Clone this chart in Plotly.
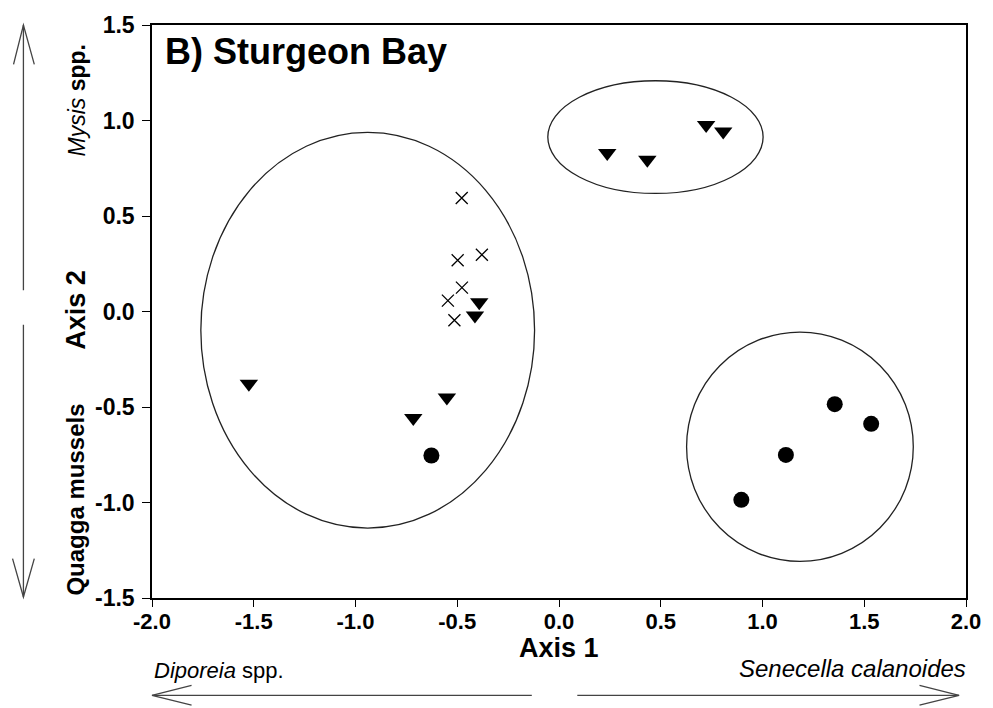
import plotly.graph_objects as go

# ---- data ----
tri_x = [0.237, 0.434, 0.723, 0.807, -1.524, -0.551, -0.716, -0.392, -0.413]
tri_y = [0.830, 0.795, 0.976, 0.942, -0.378, -0.450, -0.557, 0.048, -0.021]

cross_x = [-0.478, -0.498, -0.379, -0.477, -0.546, -0.514]
cross_y = [0.594, 0.268, 0.297, 0.125, 0.057, -0.046]

circ_x = [-0.627, 1.355, 1.534, 1.115, 0.896]
circ_y = [-0.754, -0.485, -0.588, -0.751, -0.986]

# ellipses: centre and half-axes
ell_cx = [-0.940, 0.474, 1.184]
ell_cy = [-0.098, 0.913, -0.708]
ell_rx = [0.820, 0.529, 0.557]
ell_ry = [1.036, 0.295, 0.600]

tick_vals = [-2.0, -1.5, -1.0, -0.5, 0.0, 0.5, 1.0, 1.5, 2.0]
tick_text = ["-2.0", "-1.5", "-1.0", "-0.5", "0.0", "0.5", "1.0", "1.5", "2.0"]
ytick_vals = [-1.5, -1.0, -0.5, 0.0, 0.5, 1.0, 1.5]
ytick_text = ["-1.5", "-1.0", "-0.5", "0.0", "0.5", "1.0", "1.5"]

# ---- layout geometry ----
W, H = 993, 708
L, R, T, B = 152, 975, 15, 598


def px(x):
    return (x - L) / (R - L)


def py(y):
    return (B - y) / (B - T)


FONT = "Liberation Sans, Arial, sans-serif"

fig = go.Figure()

fig.add_trace(go.Scatter(
    x=tri_x, y=tri_y, mode="markers",
    marker=dict(symbol="triangle-down", size=16, color="black", line=dict(width=0)),
    showlegend=False, hoverinfo="skip"))
fig.add_trace(go.Scatter(
    x=cross_x, y=cross_y, mode="markers",
    marker=dict(symbol="x-thin-open", size=12, color="black", line=dict(width=1.3, color="black")),
    showlegend=False, hoverinfo="skip"))
fig.add_trace(go.Scatter(
    x=circ_x, y=circ_y, mode="markers",
    marker=dict(symbol="circle", size=16, color="black", line=dict(width=0)),
    showlegend=False, hoverinfo="skip"))

shapes = []
for cx, cy, rx, ry in zip(ell_cx, ell_cy, ell_rx, ell_ry):
    shapes.append(dict(type="circle", xref="x", yref="y",
                       x0=cx - rx, x1=cx + rx, y0=cy - ry, y1=cy + ry,
                       line=dict(color="#222222", width=1.3)))


def seg(pts):
    d = "M " + " L ".join(f"{px(a):.5f},{py(b):.5f}" for a, b in pts)
    return dict(type="path", xref="paper", yref="paper", path=d,
                line=dict(color="#444444", width=1.3))


# vertical arrows
shapes.append(seg([(22, 285), (22, 15)]))
shapes.append(seg([(12, 55), (22, 15), (33, 55)]))
shapes.append(seg([(22, 320), (22, 597)]))
shapes.append(seg([(11, 558), (22, 597), (33, 558)]))
# horizontal arrows
shapes.append(seg([(536, 697), (152, 697)]))
shapes.append(seg([(192, 687), (152, 697), (192, 707)]))
shapes.append(seg([(582, 697), (968, 697)]))
shapes.append(seg([(928, 687), (968, 697), (928, 707)]))

annotations = [
    dict(text="<b>B) Sturgeon Bay</b>", x=px(163), y=py(42), xref="paper", yref="paper",
         xanchor="left", yanchor="middle", showarrow=False, font=dict(size=36, color="black", family=FONT)),
    dict(text="<b>Axis 1</b>", x=px(564), y=py(649), xref="paper", yref="paper",
         xanchor="center", yanchor="middle", showarrow=False, font=dict(size=27, color="black", family=FONT)),
    dict(text="<b>Axis 2</b>", x=px(75), y=py(305), xref="paper", yref="paper", textangle=-90,
         xanchor="center", yanchor="middle", showarrow=False, font=dict(size=27, color="black", family=FONT)),
    dict(text="<i>Diporeia</i> spp.", x=px(152), y=py(672), xref="paper", yref="paper",
         xanchor="left", yanchor="middle", showarrow=False, font=dict(size=22, color="black", family=FONT)),
    dict(text="<i>Senecella calanoides</i>", x=px(977), y=py(670), xref="paper", yref="paper",
         xanchor="right", yanchor="middle", showarrow=False, font=dict(size=24, color="black", family=FONT)),
    dict(text="<i>Mysis</i> <b>spp.</b>", x=px(76), y=py(92), xref="paper", yref="paper", textangle=-90,
         xanchor="center", yanchor="middle", showarrow=False, font=dict(size=23, color="black", family=FONT)),
    dict(text="<b>Quagga mussels</b>", x=px(75), y=py(498), xref="paper", yref="paper", textangle=-90,
         xanchor="center", yanchor="middle", showarrow=False, font=dict(size=24, color="black", family=FONT)),
]

fig.update_layout(
    width=W, height=H,
    margin=dict(l=L, r=W - R, t=T, b=H - B),
    paper_bgcolor="white", plot_bgcolor="white",
    shapes=shapes, annotations=annotations,
    font=dict(family=FONT, color="black"),
    xaxis=dict(range=[-2.0, 2.0], tickvals=tick_vals, ticktext=tick_text,
               showgrid=False, zeroline=False, showline=True, linecolor="black", linewidth=1.5,
               mirror=True, ticks="outside", ticklen=7, tickwidth=1.3, tickcolor="black",
               ticklabelstandoff=-4,
               tickfont=dict(size=22, family=FONT, color="black", weight="bold")),
    yaxis=dict(range=[-1.5, 1.5], tickvals=ytick_vals, ticktext=ytick_text,
               showgrid=False, zeroline=False, showline=True, linecolor="black", linewidth=1.5,
               mirror=True, ticks="outside", ticklen=8, tickwidth=1.3, tickcolor="black",
               ticklabelstandoff=3,
               tickfont=dict(size=23, family=FONT, color="black", weight="bold")),
)

fig.write_html("out.html",
               config={"displayModeBar": False},
               post_script="document.body.style.margin='0';document.body.style.padding='0';"
                           "document.body.style.overflow='hidden';")
